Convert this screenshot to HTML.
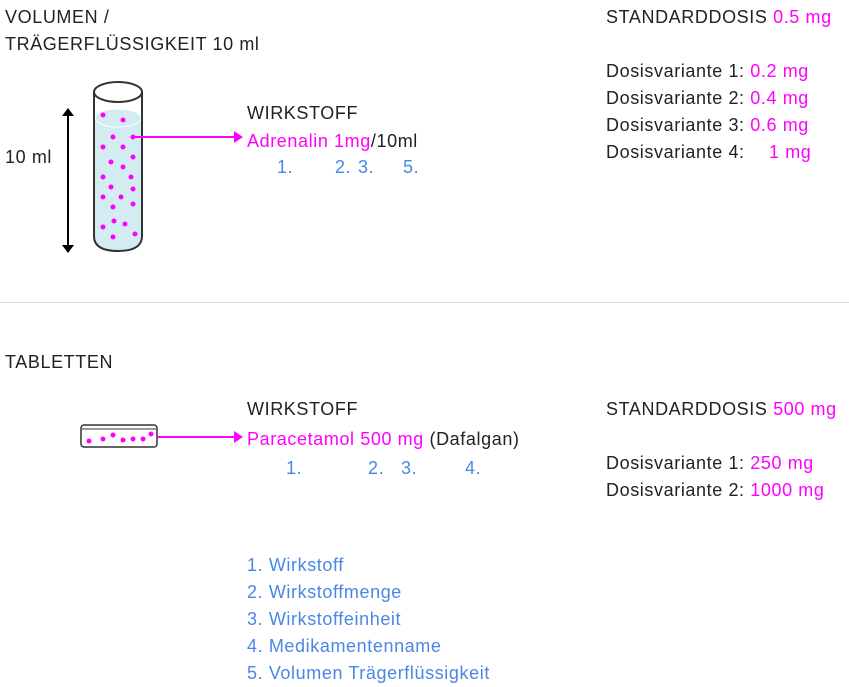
<!DOCTYPE html>
<html><head><meta charset="utf-8"><style>
body{margin:0;width:849px;height:687px;background:#fff;position:relative;overflow:hidden;font-family:"Liberation Sans",sans-serif;font-size:18px;letter-spacing:0.6px;color:#222}
.t{position:absolute;white-space:nowrap;line-height:20px}
.m{color:#ff00ff}.b{color:#4a86e8}
</style></head><body>
<div class="t" style="left:5px;top:7px">VOLUMEN /</div>
<div class="t" style="left:5px;top:34px">TRÄGERFLÜSSIGKEIT 10 ml</div>
<div class="t" style="left:5px;top:147px">10 ml</div>
<div class="t" style="left:247px;top:103px">WIRKSTOFF</div>
<div class="t" style="left:247px;top:131px"><span class="m">Adrenalin 1mg</span>/10ml</div>
<div class="t b" style="left:277px;top:157px">1.</div>
<div class="t b" style="left:335px;top:157px">2.</div>
<div class="t b" style="left:358px;top:157px">3.</div>
<div class="t b" style="left:403px;top:157px">5.</div>
<div class="t" style="left:606px;top:7px">STANDARDDOSIS <span class="m">0.5 mg</span></div>
<div class="t" style="left:606px;top:61px">Dosisvariante 1: <span class="m">0.2 mg</span></div>
<div class="t" style="left:606px;top:88px">Dosisvariante 2: <span class="m">0.4 mg</span></div>
<div class="t" style="left:606px;top:115px">Dosisvariante 3: <span class="m">0.6 mg</span></div>
<div class="t" style="left:606px;top:142px">Dosisvariante 4: <span class="m" style="position:absolute;left:163px">1 mg</span></div>
<div style="position:absolute;left:0;top:302px;width:849px;height:1px;background:#ddd"></div>
<div class="t" style="left:5px;top:352px">TABLETTEN</div>
<div class="t" style="left:247px;top:399px">WIRKSTOFF</div>
<div class="t" style="left:247px;top:429px"><span class="m">Paracetamol 500 mg</span> (Dafalgan)</div>
<div class="t b" style="left:286px;top:458px">1.</div>
<div class="t b" style="left:368px;top:458px">2.</div>
<div class="t b" style="left:401px;top:458px">3.</div>
<div class="t b" style="left:465px;top:458px">4.</div>
<div class="t" style="left:606px;top:399px">STANDARDDOSIS <span class="m">500 mg</span></div>
<div class="t" style="left:606px;top:453px">Dosisvariante 1: <span class="m">250 mg</span></div>
<div class="t" style="left:606px;top:480px">Dosisvariante 2: <span class="m">1000 mg</span></div>
<div class="t b" style="left:247px;top:555px">1. Wirkstoff</div>
<div class="t b" style="left:247px;top:582px">2. Wirkstoffmenge</div>
<div class="t b" style="left:247px;top:609px">3. Wirkstoffeinheit</div>
<div class="t b" style="left:247px;top:636px">4. Medikamentenname</div>
<div class="t b" style="left:247px;top:663px">5. Volumen Trägerflüssigkeit</div>
<svg width="849" height="687" style="position:absolute;left:0;top:0">
<g stroke="#000" stroke-width="2" fill="#000">
<line x1="68" y1="113" x2="68" y2="248"/>
<polygon points="62,116 68,108 74,116" stroke="none"/>
<polygon points="62,245 68,253 74,245" stroke="none"/>
</g>
<path d="M95,118 L95,236 Q95,250 118,250 Q141,250 141,236 L141,118 Z" fill="#d3ecf1"/>
<ellipse cx="118" cy="118" rx="23" ry="9" fill="#d3ecf1" stroke="#fff" stroke-width="1"/>
<path d="M94,92 L94,236 Q94,251 118,251 Q142,251 142,236 L142,92" fill="none" stroke="#333" stroke-width="2"/>
<ellipse cx="118" cy="92" rx="24" ry="10" fill="#fff" stroke="#333" stroke-width="2"/>
<g fill="#ff00ff">
<circle cx="103" cy="115" r="2.5"/><circle cx="123" cy="120" r="2.5"/><circle cx="113" cy="137" r="2.5"/><circle cx="133" cy="137" r="2.5"/><circle cx="103" cy="147" r="2.5"/><circle cx="123" cy="147" r="2.5"/><circle cx="111" cy="162" r="2.5"/><circle cx="133" cy="157" r="2.5"/><circle cx="123" cy="167" r="2.5"/><circle cx="103" cy="177" r="2.5"/><circle cx="131" cy="177" r="2.5"/><circle cx="111" cy="187" r="2.5"/><circle cx="133" cy="189" r="2.5"/><circle cx="103" cy="197" r="2.5"/><circle cx="121" cy="197" r="2.5"/><circle cx="113" cy="207" r="2.5"/><circle cx="133" cy="204" r="2.5"/><circle cx="103" cy="227" r="2.5"/><circle cx="114" cy="221" r="2.5"/><circle cx="125" cy="224" r="2.5"/><circle cx="113" cy="237" r="2.5"/><circle cx="135" cy="234" r="2.5"/>
</g>
<line x1="133" y1="137" x2="236" y2="137" stroke="#ff00ff" stroke-width="2"/>
<polygon points="234,131 243,137 234,143" fill="#ff00ff"/>
<rect x="81" y="425" width="76" height="22" rx="3" fill="#fff" stroke="#333" stroke-width="1.5"/>
<line x1="82" y1="429" x2="156" y2="429" stroke="#333" stroke-width="1"/>
<g fill="#ff00ff">
<circle cx="89" cy="441" r="2.5"/><circle cx="103" cy="439" r="2.5"/><circle cx="113" cy="435" r="2.5"/><circle cx="123" cy="440" r="2.5"/><circle cx="133" cy="439" r="2.5"/><circle cx="143" cy="439" r="2.5"/><circle cx="151" cy="434" r="2.5"/>
</g>
<line x1="157" y1="437" x2="236" y2="437" stroke="#ff00ff" stroke-width="2"/>
<polygon points="234,431 243,437 234,443" fill="#ff00ff"/>
</svg>
</body></html>
